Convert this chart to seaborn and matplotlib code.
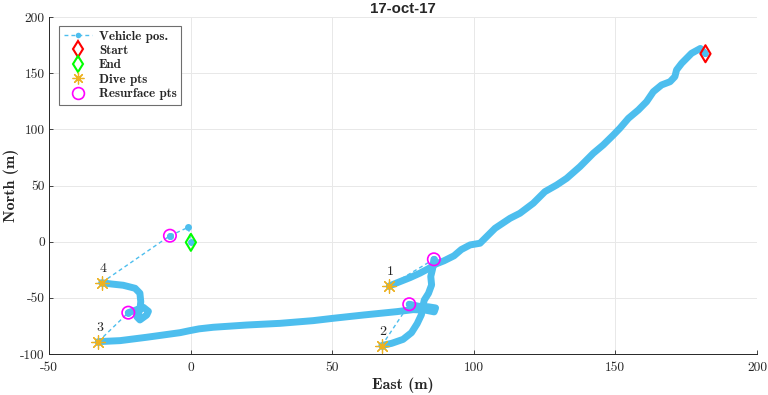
import pandas as pd
import matplotlib
matplotlib.use('Agg')
import matplotlib.pyplot as plt
from matplotlib.lines import Line2D
import seaborn as sns

sns.set_theme(style="whitegrid")
plt.rcParams['font.family'] = ['cmr10', 'DejaVu Serif']
plt.rcParams['axes.unicode_minus'] = False
plt.rcParams['mathtext.fontset'] = 'cm'

# 数据: East / North (m)
start_e, start_n = 181.8, 167.3
end_e, end_n = 0.1, -0.6

# surface tracks (dense GPS fixes)
trk1_e = [181.8, 180.0, 176.9, 173.4, 171.6, 171.0, 169.3, 166.3, 163.4, 161.0, 158.1, 154.6,
          151.6, 149.3, 145.7, 142.2, 137.5, 132.8, 129.3, 125.1, 121.0, 116.3, 112.8, 107.5,
          102.2, 98.7, 95.6, 93.0, 89.5, 86.5, 84.0, 81.0, 77.5, 73.9, 70.2]
trk1_n = [167.3, 172.0, 167.7, 158.8, 152.9, 146.9, 142.4, 139.5, 133.5, 124.6, 117.2, 109.8,
          101.0, 95.0, 86.1, 78.7, 66.8, 56.4, 50.5, 44.5, 34.2, 25.3, 20.8, 11.9,
          -1.4, -2.9, -7.0, -12.6, -17.0, -20.0, -24.0, -28.0, -32.0, -35.6, -39.4]
trk2_e = [85.9, 85.5, 84.8, 85.1, 84.0, 82.5, 82.0, 81.5, 80.0, 78.0, 75.0, 71.0, 67.5]
trk2_n = [-15.7, -23.7, -31.0, -38.5, -46.0, -52.0, -58.0, -65.0, -73.0, -81.0, -87.0, -90.5, -92.5]
trk3_e = [77.2, 80.5, 84.0, 86.5, 86.0, 83.0, 78.6, 72.8, 61.0, 50.4, 43.3, 31.6, 19.8, 8.0,
          3.0, -0.5, -3.7, -15.5, -24.9, -32.6]
trk3_n = [-55.7, -57.5, -58.0, -59.0, -62.5, -61.0, -60.5, -62.3, -65.3, -68.2, -70.3, -72.7,
          -74.2, -76.2, -77.6, -79.3, -81.0, -85.1, -88.1, -89.0]
trk4_e = [-22.0, -19.5, -16.7, -14.9, -15.5, -17.9, -19.0, -17.9, -17.6, -17.9, -19.6, -23.8, -27.9, -31.4]
trk4_n = [-63.2, -61.0, -58.4, -62.0, -65.3, -69.7, -66.8, -60.8, -53.4, -45.9, -41.5, -38.8, -37.7, -36.5]

dive_e = [70.2, 67.5, -32.6, -31.4]
dive_n = [-39.4, -92.5, -89.0, -36.5]
resurf_e = [85.9, 77.2, -22.0, -7.3]
resurf_n = [-15.7, -55.7, -63.2, 5.3]
last_e = [-7.3, -0.8, 0.1]
last_n = [5.3, 12.8, -0.6]

blue = '#4DBEEE'

trk = pd.concat([pd.DataFrame({'e': e, 'n': n, 'seg': i})
                 for i, (e, n) in enumerate([(trk1_e, trk1_n), (trk2_e, trk2_n),
                                             (trk3_e, trk3_n), (trk4_e, trk4_n)])])
jumps = [([de, re], [dn, rn]) for de, dn, re, rn in zip(dive_e, dive_n, resurf_e, resurf_n)]
jumps.append((last_e, last_n))
jmp = pd.concat([pd.DataFrame({'e': e, 'n': n, 'seg': i}) for i, (e, n) in enumerate(jumps)])

fig = plt.figure(figsize=(7.68, 3.95), dpi=100)
ax = fig.add_axes([49 / 768, 1 - 354 / 395, 708 / 768, 337 / 395])

sns.lineplot(data=trk, x='e', y='n', units='seg', estimator=None, sort=False, color=blue,
             lw=5, solid_capstyle='round', solid_joinstyle='round', ax=ax)
sns.lineplot(data=jmp, x='e', y='n', units='seg', estimator=None, sort=False, color=blue,
             lw=1, linestyle=(0, (2.8, 2.2)), marker='o', markersize=5, markeredgewidth=0, ax=ax)

sns.scatterplot(x=[start_e], y=[start_n], marker='d', s=75, facecolor='none',
                edgecolor='#FF0000', linewidth=1.5, ax=ax, zorder=5)
sns.scatterplot(x=[end_e], y=[end_n], marker='d', s=75, facecolor='none',
                edgecolor='#00FF00', linewidth=1.5, ax=ax, zorder=5)
sns.scatterplot(x=dive_e, y=dive_n, marker=(8, 2, 0), s=95, color='#EDB120',
                edgecolor='#EDB120', linewidth=0.9, ax=ax, zorder=5)
sns.scatterplot(x=resurf_e, y=resurf_n, marker='o', s=80, facecolor='none',
                edgecolor='#FF00FF', linewidth=1.2, ax=ax, zorder=5)

for i, (e, n) in enumerate(zip(dive_e, dive_n)):
    ax.annotate(str(i + 1), (e, n), xytext=(1, 10), textcoords='offset points',
                ha='center', va='center', fontsize=10, family='cmr10')

ax.set_xlim(-50, 200)
ax.set_ylim(-100, 200)
ax.set_xticks(range(-50, 201, 50))
ax.set_yticks(range(-100, 201, 50))
ax.grid(True, color='#e8e8e8', lw=0.7)
for s in ['top', 'right']:
    ax.spines[s].set_visible(False)
for s in ['left', 'bottom']:
    ax.spines[s].set_color('#262626')
    ax.spines[s].set_linewidth(0.7)
ax.tick_params(direction='in', length=3, width=0.6, color='#262626', labelsize=9.7,
               labelcolor='#262626', left=True, bottom=True)
ax.tick_params(axis='y', pad=3)
ax.tick_params(axis='x', pad=6)

ax.set_xlabel('East (m)', family='cmb10', fontsize=11.5, color='#262626', labelpad=2)
ax.set_ylabel('North (m)', family='cmb10', fontsize=11.5, color='#262626', labelpad=1)
ax.set_title('17-oct-17', family='Liberation Sans', fontweight='bold', fontsize=10.8, pad=3)

handles = [
    Line2D([], [], color=blue, ls=(0, (2.8, 2.2)), lw=1, marker='o', ms=4, mew=0),
    Line2D([], [], ls='none', marker='d', ms=8.5, mfc='none', mec='#FF0000', mew=1.5),
    Line2D([], [], ls='none', marker='d', ms=8.5, mfc='none', mec='#00FF00', mew=1.5),
    Line2D([], [], ls='none', marker=(8, 2, 0), ms=8.5, color='#EDB120', mew=0.9),
    Line2D([], [], ls='none', marker='o', ms=8.5, mfc='none', mec='#FF00FF', mew=1.2),
]
labels = ['Vehicle pos.', 'Start', 'End', 'Dive pts', 'Resurface pts']
leg = ax.legend(handles, labels, loc='upper left', bbox_to_anchor=(10 / 708, 1 - 9 / 337),
                borderaxespad=0, fancybox=False, framealpha=1, edgecolor='#6e6e6e',
                prop={'family': 'cmb10', 'size': 9.4}, labelspacing=0.17, handlelength=2.2,
                handletextpad=0.5, borderpad=0.35, numpoints=1)
leg.get_frame().set_linewidth(0.8)

fig.savefig('out.png', dpi=100)
